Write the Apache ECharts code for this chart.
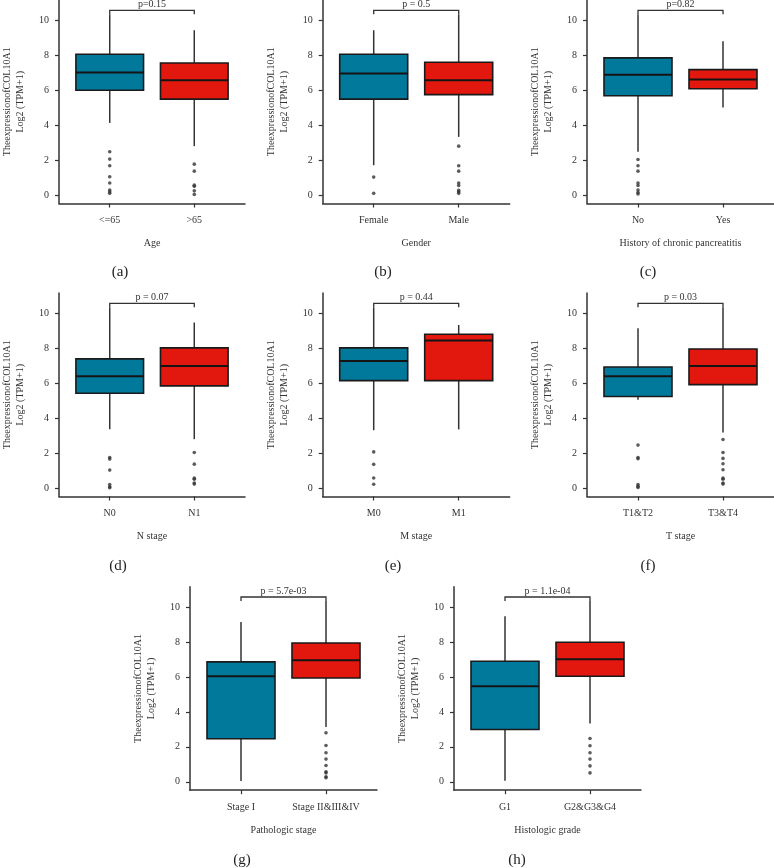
<!DOCTYPE html>
<html><head><meta charset="utf-8">
<script src="https://cdn.jsdelivr.net/npm/echarts@6/dist/echarts.min.js"></script>
<style>html,body{margin:0;padding:0;background:#fff}#c{width:774px;height:868px}</style>
</head><body><div id="c"></div>
<script>
// ---- data (box = [lower whisker, Q1, median, Q3, upper whisker]) ----
const yTicks = [0, 2, 4, 6, 8, 10];
const yName = 'TheexpressionofCOL10A1\nLog2 (TPM+1)';

const catsA = ['<=65', '>65'];
const boxA = [[4.13, 6.0, 7.01, 8.06, 10.34], [2.8, 5.49, 6.57, 7.56, 9.43]];
const outA = [[2.48, 2.06, 1.68, 1.05, 0.69, 0.29, 0.19, 0.1], [1.77, 1.37, 0.57, 0.5, 0.25, 0.04]];
const pA = 'p=0.15';
const xTitleA = 'Age';

const catsB = ['Female', 'Male'];
const boxB = [[1.71, 5.49, 6.95, 8.06, 9.43], [3.33, 5.75, 6.57, 7.6, 10.34]];
const outB = [[1.03, 0.1], [2.8, 1.68, 1.37, 0.69, 0.55, 0.27, 0.19, 0.1]];
const pB = 'p = 0.5';
const xTitleB = 'Gender';

const catsC = ['No', 'Yes'];
const boxC = [[2.48, 5.68, 6.88, 7.85, 10.34], [5.01, 6.08, 6.61, 7.18, 8.8]];
const outC = [[2.04, 1.68, 1.37, 0.69, 0.55, 0.29, 0.15, 0.06], []];
const pC = 'p=0.82';
const xTitleC = 'History of chronic pancreatitis';

const catsD = ['N0', 'N1'];
const boxD = [[3.37, 5.43, 6.4, 7.39, 10.34], [2.8, 5.85, 6.99, 8.02, 9.47]];
const outD = [[1.75, 1.66, 1.03, 0.21, 0.08, 0.02], [2.04, 1.37, 0.57, 0.51, 0.29, 0.23]];
const pD = 'p = 0.07';
const xTitleD = 'N stage';

const catsE = ['M0', 'M1'];
const boxE = [[3.31, 6.15, 7.27, 8.02, 10.34], [3.36, 6.15, 8.45, 8.8, 9.33]];
const outE = [[2.07, 1.36, 0.58, 0.22], []];
const pE = 'p = 0.44';
const xTitleE = 'M stage';

const catsF = ['T1&T2', 'T3&T4'];
const boxF = [[5.05, 5.24, 6.4, 6.93, 9.14], [3.18, 5.92, 6.99, 7.96, 10.34]];
const outF = [[2.46, 1.75, 1.68, 0.21, 0.1, 0.04], [2.78, 2.04, 1.7, 1.39, 1.05, 0.57, 0.51, 0.29, 0.23]];
const pF = 'p = 0.03';
const xTitleF = 'T stage';

const catsG = ['Stage I', 'Stage II&III&IV'];
const boxG = [[0.04, 2.46, 6.04, 6.86, 9.14], [3.14, 5.94, 6.95, 7.94, 10.34]];
const outG = [[], [2.8, 2.08, 1.66, 1.3, 0.93, 0.57, 0.51, 0.29, 0.23]];
const pG = 'p = 5.7e-03';
const xTitleG = 'Pathologic stage';

const catsH = ['G1', 'G2&G3&G4'];
const boxH = [[0.06, 2.99, 5.47, 6.9, 9.47], [3.33, 6.04, 7.01, 7.98, 10.34]];
const outH = [[], [2.48, 2.06, 1.66, 1.3, 0.91, 0.51]];
const pH = 'p = 1.1e-04';
const xTitleH = 'Histologic grade';

const bracketY = [10.57, 10.34];

// ---- layout / style ----
const FONT = "'Liberation Serif','DejaVu Serif',serif";
const boxColors = ['#01799A', '#E2170E'];
const panels = [
  {cats: catsA, box: boxA, out: outA, p: pA, xt: xTitleA, left: 58, top: 0, tag: '(a)', tx: 120, ty: 272},
  {cats: catsB, box: boxB, out: outB, p: pB, xt: xTitleB, left: 322.7, top: 0, tag: '(b)', tx: 383, ty: 272},
  {cats: catsC, box: boxC, out: outC, p: pC, xt: xTitleC, left: 587, top: 0, tag: '(c)', tx: 648, ty: 272},
  {cats: catsD, box: boxD, out: outD, p: pD, xt: xTitleD, left: 58, top: 293, tag: '(d)', tx: 118, ty: 566},
  {cats: catsE, box: boxE, out: outE, p: pE, xt: xTitleE, left: 322.7, top: 293, tag: '(e)', tx: 393, ty: 566},
  {cats: catsF, box: boxF, out: outF, p: pF, xt: xTitleF, left: 587, top: 293, tag: '(f)', tx: 648, ty: 566},
  {cats: catsG, box: boxG, out: outG, p: pG, xt: xTitleG, left: 190, top: 586.7, tag: '(g)', tx: 242, ty: 860},
  {cats: catsH, box: boxH, out: outH, p: pH, xt: xTitleH, left: 454, top: 586.7, tag: '(h)', tx: 517, ty: 860}
];

function renderBox(params, api) {
  const x = api.value(0), lo = api.value(1), q1 = api.value(2), md = api.value(3), q3 = api.value(4), hi = api.value(5);
  const hw = 0.4;
  const pHi = api.coord([x, hi]), pQ3 = api.coord([x, q3]), pQ1 = api.coord([x, q1]), pLo = api.coord([x, lo]);
  const tl = api.coord([x - hw, q3]), br = api.coord([x + hw, q1]);
  const ml = api.coord([x - hw, md]), mr = api.coord([x + hw, md]);
  return {type: 'group', children: [
    {type: 'line', shape: {x1: pHi[0], y1: pHi[1], x2: pQ3[0], y2: pQ3[1]}, style: {stroke: '#333', lineWidth: 1.5}},
    {type: 'line', shape: {x1: pQ1[0], y1: pQ1[1], x2: pLo[0], y2: pLo[1]}, style: {stroke: '#333', lineWidth: 1.5}},
    {type: 'rect', shape: {x: tl[0], y: tl[1], width: br[0] - tl[0], height: br[1] - tl[1]},
      style: {fill: boxColors[params.dataIndex], stroke: '#1a1a1a', lineWidth: 1.6}},
    {type: 'line', shape: {x1: ml[0], y1: ml[1], x2: mr[0], y2: mr[1]}, style: {stroke: '#141414', lineWidth: 2}}
  ]};
}

function makeBracket(ptext) {
  return function (params, api) {
    const a = api.coord([api.value(0), api.value(3)]);
    const b = api.coord([api.value(0), api.value(2)]);
    const c = api.coord([api.value(1), api.value(2)]);
    const d = api.coord([api.value(1), api.value(3)]);
    return {type: 'group', children: [
      {type: 'polyline', shape: {points: [a, b, c, d]}, style: {stroke: '#333', lineWidth: 1.3, fill: null}},
      {type: 'text', x: (b[0] + c[0]) / 2, y: b[1] - 1,
        style: {text: ptext, font: '10px ' + FONT, fill: '#333', align: 'center', verticalAlign: 'bottom'}}
    ]};
  };
}

const grid = [], xAxis = [], yAxis = [], series = [], graphic = [];
panels.forEach((p, i) => {
  grid.push({left: p.left, top: p.top, width: 187, height: 203.5});
  xAxis.push({
    type: 'value', gridIndex: i, min: 0.4, max: 2.6,
    axisLine: {show: true, onZero: false, lineStyle: {color: '#333', width: 1.5}},
    axisTick: {show: true, customValues: [1, 2], length: 4, lineStyle: {color: '#333', width: 1.2}},
    axisLabel: {customValues: [1, 2], formatter: v => p.cats[Math.round(v) - 1], margin: 12,
      fontFamily: FONT, fontSize: 10, color: '#333'},
    splitLine: {show: false},
    name: p.xt, nameLocation: 'middle', nameGap: 35,
    nameTextStyle: {fontFamily: FONT, fontSize: 10, color: '#333'}
  });
  yAxis.push({
    type: 'value', gridIndex: i, min: -0.48, max: 11.16,
    axisLine: {show: true, lineStyle: {color: '#333', width: 1.5}},
    axisTick: {show: true, customValues: yTicks, length: 4, lineStyle: {color: '#333', width: 1.2}},
    axisLabel: {customValues: yTicks, margin: 10, fontFamily: FONT, fontSize: 10, color: '#333'},
    splitLine: {show: false},
    name: yName, nameLocation: 'middle', nameGap: 32, nameRotate: 90,
    nameTextStyle: {fontFamily: FONT, fontSize: 10, color: '#333', lineHeight: 13}
  });
  series.push({
    type: 'custom', xAxisIndex: i, yAxisIndex: i, renderItem: renderBox, silent: true, z: 2,
    encode: {x: 0, y: [1, 2, 3, 4, 5]},
    data: p.box.map((b, k) => [k + 1].concat(b))
  });
  const pts = [];
  p.out.forEach((arr, k) => arr.forEach(v => pts.push([k + 1, v])));
  series.push({
    type: 'scatter', xAxisIndex: i, yAxisIndex: i, symbol: 'circle', symbolSize: 3.6, silent: true, z: 3,
    itemStyle: {color: '#333'}, data: pts
  });
  series.push({
    type: 'custom', xAxisIndex: i, yAxisIndex: i, renderItem: makeBracket(p.p), silent: true, z: 4, clip: false,
    encode: {x: [0, 1], y: [2, 3]},
    data: [[1, 2, bracketY[0], bracketY[1]]]
  });
  graphic.push({type: 'text', x: p.tx, y: p.ty,
    style: {text: p.tag, font: '15px ' + FONT, fill: '#222', align: 'center', verticalAlign: 'middle'}});
});

const chart = echarts.init(document.getElementById('c'), null, {renderer: 'canvas'});
chart.setOption({animation: false, backgroundColor: '#fff', grid, xAxis, yAxis, series, graphic});
</script>
</body></html>
